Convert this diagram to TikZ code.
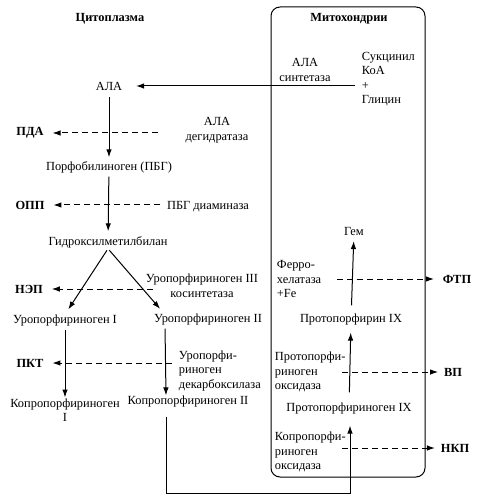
\documentclass[tikz,border=0pt]{standalone}
\usepackage{fontspec}
\setmainfont{Liberation Serif}
\usepackage{amsmath}
\usepackage{xcolor}
\usetikzlibrary{arrows.meta}

\tikzset{
    lbl/.style={inner sep=0.75pt, font=\fontsize{12.4}{14.5}\selectfont},
    sub/.style={lbl, align=center},
    enz/.style={lbl, align=left, anchor=west},
    prod/.style={inner sep=0.75pt, font=\fontsize{12.4}{14.5}\selectfont\bfseries},
    flow/.style={-{Latex[length=8pt,width=5.5pt]}, line width=1pt},
    leak/.style={flow, dash pattern=on 6pt off 4pt, shorten >=8pt},
}

\begin{document}
\begin{tikzpicture}[x=1pt,y=1pt,yscale=-1,xscale=1]
    \useasboundingbox (0,0) rectangle (478,502);

    %Shape: Rectangle
    \draw [rounded corners=9pt, line width=1pt] (271,7) rectangle (425,477);

    % Text Node
    \node [prod] (cyto) at (110,19) {Цитоплазма};
    % Text Node
    \node [prod] (mito) at (349,19) {Митохондрии};
    % Text Node
    \node [lbl] (ala) at (109,86) {АЛА};
    % Text Node
    \node [enz] (suk) at (361,79) {Сукцинил\\КоА\\+\\Глицин};
    % Text Node
    \node [sub] (alas) at (305,70) {АЛА\\синтетаза};
    % Text Node
    \node [lbl] (pbg) at (109,167) {Порфобилиноген (ПБГ)};
    % Text Node
    \node [prod] (pda) at (30,133) {ПДА};
    % Text Node
    \node [sub] (alad) at (217,130) {АЛА\\дегидратаза};
    % Text Node
    \node [lbl] (hmb) at (108,242) {Гидроксилметилбилан};
    % Text Node
    \node [prod] (opp) at (30,205) {ОПП};
    % Text Node
    \node [lbl] (pbgd) at (208,207) {ПБГ диаминаза};
    % Text Node
    \node [lbl] (uro1) at (65,321) {Уропорфириноген I};
    % Text Node
    \node [lbl] (uro3) at (208,320) {Уропорфириноген II};
    % Text Node
    \node [prod] (nep) at (29,289) {НЭП};
    % Text Node
    \node [sub] (uros) at (202,286) {Уропорфириноген III\\косинтетаза};
    % Text Node
    \node [sub] (copro1) at (65,410) {Копропорфириноген\\I};
    % Text Node
    \node [lbl] (copro3) at (188,402) {Копропорфириноген II};
    % Text Node
    \node [prod] (pkt) at (30,363) {ПКТ};
    % Text Node
    \node [enz] (urod) at (178,371) {Уропорфи-\\риноген\\декарбоксилаза};
    % Text Node
    \node [lbl] (protogen) at (349,409) {Протопорфириноген IX};
    % Text Node
    \node [lbl] (proto) at (351,320) {Протопорфирин IX};
    % Text Node
    \node [lbl] (heme) at (354,232) {Гем};
    % Text Node
    \node [enz] (fech) at (276,279) {Ферро-\\хелатаза\\+Fe};
    % Text Node
    \node [prod] (ftp) at (457,279) {ФТП};
    % Text Node
    \node [enz] (ppox) at (274,372) {Протопорфи-\\риноген\\оксидаза};
    % Text Node
    \node [prod] (vp) at (453,372) {ВП};
    % Text Node
    \node [enz] (cpox) at (274,452) {Копропорфи-\\риноген\\оксидаза};
    % Text Node
    \node [prod] (nkp) at (455,448) {НКП};

    %Straight Lines
    \coordinate (glyc) at (355,86);
    \draw [flow, shorten >=13pt] (glyc) -- (ala);
    \draw [flow, shorten <=6pt, shorten >=3pt] (ala) -- (pbg);
    \draw [flow, shorten <=3pt, shorten >=4pt] (pbg) -- (hmb);
    \draw [flow, shorten <=2pt, shorten >=6pt] (hmb.south) -- (uro1.north);
    \draw [flow, shorten <=2pt, shorten >=6pt] (hmb.south) -- ([xshift=-44pt]uro3.north);
    \draw [flow, shorten <=2pt] (uro1) -- (copro1);
    \draw [flow, shorten <=2pt] ([xshift=-43pt]uro3.south) -- ([xshift=-22pt]copro3.north);
    \coordinate (bend) at (166,493);
    \draw [flow, shorten <=8pt, shorten >=10pt] ([xshift=-22pt]copro3.south) -- (bend) -| ([xshift=1pt]protogen.south);
    \draw [flow, shorten <=10pt, shorten >=6pt] (protogen) -- (proto);
    \draw [flow, shorten <=8pt, shorten >=4pt] (proto) -- (heme);

    %Dashed Lines
    \coordinate (dalad) at (158,133);
    \draw [leak] (dalad) -- (pda);
    \coordinate (dpbgd) at (160,205);
    \draw [leak] (dpbgd) -- (opp);
    \coordinate (duros) at (153,289);
    \draw [leak] (duros) -- (nep);
    \coordinate (durod) at (172,363);
    \draw [leak] (durod) -- (pkt);
    \coordinate (dfech) at (337,279);
    \draw [leak] (dfech) -- (ftp);
    \coordinate (dppox) at (342,372);
    \draw [leak, shorten >=5pt] (dppox) -- (vp);
    \coordinate (dcpox) at (342,448);
    \draw [leak, shorten >=5pt] (dcpox) -- (nkp);

\end{tikzpicture}
\end{document}
